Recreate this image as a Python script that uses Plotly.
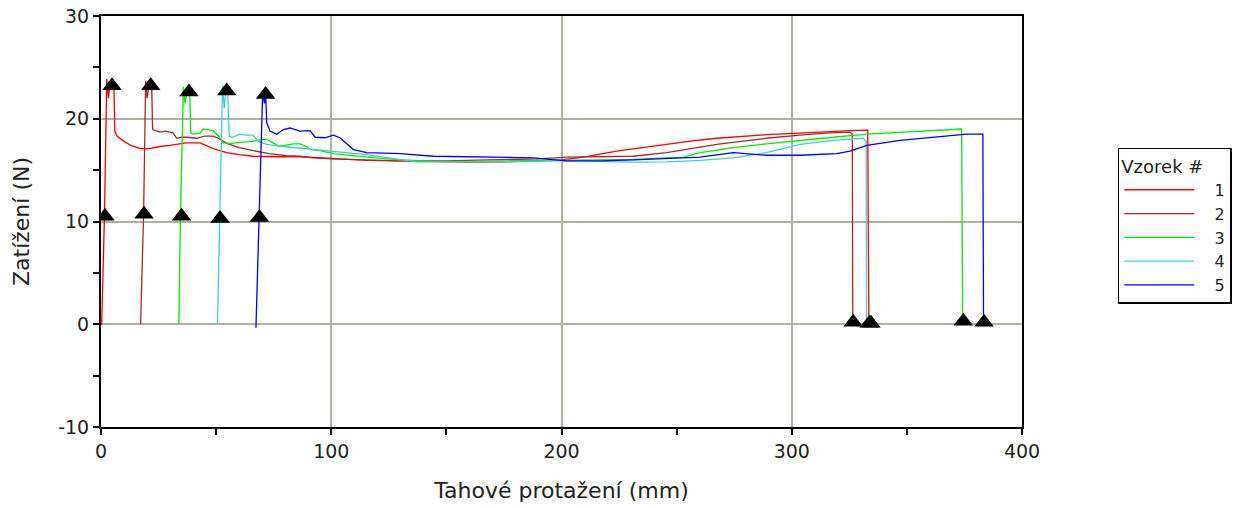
import plotly.graph_objects as go

# ---- data ----
x1 = [0, 0.3, 1.5, 2.5, 3.2, 4.0, 5.0, 5.6, 6.0, 7, 10, 13, 17, 21, 25.6, 30, 37, 43, 48.7, 54.6, 60, 66, 75, 86.4,
      100, 115.4, 130, 145, 159, 175, 187.8, 200, 209.5, 224, 235, 245.7, 257, 267.4, 278, 289, 303.6, 315, 325.3,
      333, 333.3, 333.5]
y1 = [0, 0, 10.5, 23.9, 22.0, 23.5, 23.4, 23.4, 18.8, 18.3, 17.8, 17.4, 17.1, 17.1, 17.3, 17.4, 17.65, 17.65, 17.1,
      16.7, 16.5, 16.35, 16.3, 16.3, 16.15, 15.95, 15.9, 15.85, 15.77, 15.8, 15.87, 16.0, 16.26, 16.85, 17.2, 17.55,
      17.85, 18.1, 18.3, 18.45, 18.6, 18.75, 18.85, 18.9, 10, 0]

x2 = [17.2, 18.5, 19.4, 20, 21, 22, 22.4, 23, 25.6, 28, 31.4, 32.9, 35, 37.2, 41.6, 45, 48.8, 51, 54.6, 60, 66.1, 73,
      80.6, 86.4, 92.2, 100, 115, 129.9, 150, 173.3, 190, 202.3, 215, 231.2, 245.7, 256, 267.4, 278, 289, 303.6, 315,
      325.3, 326.3, 326.5]
y2 = [0, 10.7, 23.7, 22.0, 23.4, 23.4, 19.0, 18.9, 18.7, 18.8, 18.6, 18.1, 18.2, 18.2, 18.1, 18.3, 18.3, 18.1, 17.6,
      17.2, 16.9, 16.6, 16.4, 16.35, 16.2, 16.1, 16.0, 15.9, 15.9, 16.0, 16.1, 16.26, 16.3, 16.35, 16.7, 17.1, 17.5,
      17.8, 18.1, 18.4, 18.6, 18.7, 18.5, 0]

x3 = [33.8, 34.5, 35.8, 36.5, 37.5, 38.5, 39, 40, 43, 44.4, 46, 48.7, 51, 53.1, 56, 58.9, 62, 66, 69, 72, 75, 77.7, 80,
      83.5, 86.4, 89.3, 90.8, 95, 100.9, 115.4, 130, 144.3, 160, 173.3, 190, 202.3, 215, 231.2, 245, 253, 260.2, 267,
      274.6, 289, 303.6, 318, 332.6, 347, 361.5, 373.8, 374.2]
y3 = [0, 10.5, 23.1, 21.5, 22.8, 22.8, 18.6, 18.5, 18.6, 19.0, 18.95, 18.85, 18.3, 17.65, 17.6, 17.65, 17.7, 17.8,
      17.95, 18.0, 17.6, 17.3, 17.4, 17.55, 17.55, 17.3, 17.0, 16.9, 16.6, 16.26, 16.0, 15.87, 15.85, 15.87, 15.9,
      15.93, 16.0, 16.04, 16.15, 16.26, 16.7, 16.95, 17.2, 17.55, 17.9, 18.2, 18.5, 18.7, 18.85, 19.0, 0]

x4 = [50.6, 51.5, 52.8, 53.5, 54.2, 55, 55.7, 57, 60.3, 63, 66, 68.3, 72, 79.2, 86.4, 95, 100.9, 115.4, 125, 137, 155,
      173.3, 190, 202.3, 215, 231.2, 245.7, 260, 274.6, 289, 303.6, 318, 331, 332.3, 332.5]
y4 = [0, 10.3, 23.3, 21.0, 22.8, 22.8, 18.3, 18.2, 18.5, 18.4, 18.4, 17.8, 17.5, 17.3, 17.15, 16.9, 16.85, 16.5, 16.2,
      15.8, 15.8, 15.8, 15.85, 15.93, 15.85, 15.77, 15.8, 15.95, 16.2, 16.7, 17.5, 17.9, 18.1, 17.8, 0]

x5 = [67.3, 68.8, 70.2, 71, 71.5, 72, 73.4, 76.3, 79.2, 82.1, 86.4, 90.8, 93, 97.3, 100.9, 103.8, 109.6, 115.4, 129.9,
      144.3, 154.5, 173.3, 187.8, 202.3, 216.7, 231.2, 245.7, 260.2, 274.6, 289, 303.6, 319.5, 325.3, 332.6, 347,
      361.5, 376, 383, 383.3]
y5 = [-0.35, 10.4, 22.5, 21.5, 22.4, 19.6, 18.8, 18.5, 18.95, 19.1, 18.8, 18.85, 18.2, 18.15, 18.4, 18.15, 17.0, 16.7,
      16.6, 16.35, 16.3, 16.26, 16.2, 15.9, 15.9, 16.0, 16.1, 16.26, 16.7, 16.45, 16.45, 16.6, 16.85, 17.4, 17.9, 18.2,
      18.5, 18.5, 0]

series_names = ["1", "2", "3", "4", "5"]
series_x = [x1, x2, x3, x4, x5]
series_y = [y1, y2, y3, y4, y5]
colors = ["#ff0000", "#a52a2a", "#00ee00", "#40d0d0", "#0000ff"]

# marker points (start, peak, break) per sample
mark_x = [1.7, 18.7, 35.0, 51.7, 68.8,
          4.8, 21.6, 38.2, 54.6, 71.5,
          333.7, 326.7, 374.5, 334.4, 383.5]
mark_y = [10.5, 10.7, 10.5, 10.3, 10.4,
          23.2, 23.2, 22.6, 22.7, 22.35,
          0.1, 0.2, 0.3, 0.1, 0.2]

x_tickvals = [0, 100, 200, 300, 400]
x_ticktext = ["0", "100", "200", "300", "400"]
y_tickvals = [-10, 0, 10, 20, 30]
y_ticktext = ["-10", "0", "10", "20", "30"]

FONT = "DejaVu Sans"
GRID = "#b3afa3"

fig = go.Figure()
for name, xs, ys, c in zip(series_names, series_x, series_y, colors):
    fig.add_trace(go.Scatter(x=xs, y=ys, mode="lines", name="\u00a0" * 3 + name,
                             line=dict(color=c, width=1.3)))
fig.add_trace(go.Scatter(x=mark_x, y=mark_y, mode="markers", showlegend=False,
                         marker=dict(symbol="triangle-up", size=17, color="black")))

common = dict(showline=True, linecolor="black", linewidth=2, mirror=True, zeroline=False, automargin=False)
fig.update_layout(
    width=1247, height=508, autosize=False,
    margin=dict(l=101, r=225, t=16, b=81),
    paper_bgcolor="white", plot_bgcolor="white",
    font=dict(family=FONT, size=20, color="#222"),
    xaxis=dict(range=[0, 400], tickmode="array", tickvals=x_tickvals, ticktext=x_ticktext,
               showgrid=True, gridcolor=GRID, gridwidth=2,
               ticks="outside", ticklen=6, tickcolor="black", tickwidth=1.5,
               minor=dict(dtick=50, tick0=0, ticks="outside", ticklen=6, tickcolor="black", tickwidth=1.5,
                          showgrid=False),
               title=dict(text="Tahové protažení (mm)", font=dict(size=22), standoff=22),
               tickfont=dict(size=19), **common),
    yaxis=dict(range=[-10, 30], tickmode="array", tickvals=y_tickvals, ticktext=y_ticktext,
               showgrid=True, gridcolor=GRID, gridwidth=2,
               ticks="outside", ticklen=6, tickcolor="black", tickwidth=1.5,
               minor=dict(dtick=5, tick0=0, ticks="outside", ticklen=6, tickcolor="black", tickwidth=1.5,
                          showgrid=False),
               title=dict(text="Zatížení (N)", font=dict(size=22), standoff=22),
               tickfont=dict(size=19), **common),
    legend=dict(x=1.104, y=0.679, xanchor="left", yanchor="top",
                bordercolor="black", borderwidth=1.5, bgcolor="white",
                title=dict(text="Vzorek #", font=dict(size=18)),
                font=dict(size=16), itemwidth=70, tracegroupgap=0),
    showlegend=True,
)
fig.write_html(
    "out.html",
    config={"responsive": False, "displayModeBar": False},
    post_script="document.body.style.margin='0px';document.body.style.overflow='hidden';",
)
